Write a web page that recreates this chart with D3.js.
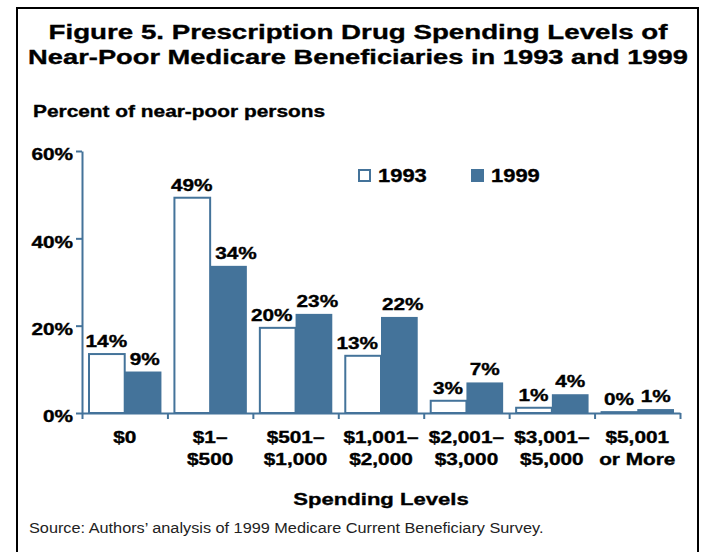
<!DOCTYPE html>
<html><head><meta charset="utf-8">
<script src="https://cdn.jsdelivr.net/npm/d3@7"></script>
<style>body{margin:0;background:#fff}svg{display:block}text{font-family:"Liberation Sans",Arial,sans-serif}</style>
</head><body>
<svg id="c" width="705" height="552"></svg>
<script>
const categories = [["$0"],["$1–","$500"],["$501–","$1,000"],["$1,001–","$2,000"],["$2,001–","$3,000"],["$3,001–","$5,000"],["$5,001","or More"]];
const series = ["1993","1999"];
const values1993 = [13.5, 49.3, 19.5, 13.1, 2.8, 1.2, 0.2];
const values1999 = [9.5, 33.7, 22.7, 22.0, 7.0, 4.3, 0.9];
const labels1993 = ["14%","49%","20%","13%","3%","1%","0%"];
const labels1999 = ["9%","34%","23%","22%","7%","4%","1%"];
const yTicks = [0, 20, 40, 60];

const blue = "#44739a";
const svg = d3.select("#c");
const L = 82, R = 680, T = 151, B = 413;

// stretched text helper (reference type is wide)
function txt(parent, x, y, s, size, sx, anchor, bold, fill) {
  return parent.append("text")
    .attr("transform", `translate(${x},${y}) scale(${sx},1)`)
    .attr("text-anchor", anchor || "start")
    .attr("font-size", size)
    .attr("font-weight", bold === false ? "normal" : "bold")
    .attr("fill", fill || "#000")
    .attr("stroke", bold === false ? "none" : (fill || "#000"))
    .attr("stroke-width", bold === false ? 0 : 0.35)
    .text(s);
}

svg.append("rect").attr("x",17).attr("y",8).attr("width",681).attr("height",560)
  .attr("fill","none").attr("stroke","#000").attr("stroke-width",2);

txt(svg, 358, 38.5, "Figure 5. Prescription Drug Spending Levels of", 21, 1.32, "middle");
txt(svg, 358, 63.5, "Near-Poor Medicare Beneficiaries in 1993 and 1999", 21, 1.30, "middle");
txt(svg, 33, 116.7, "Percent of near-poor persons", 16.3, 1.28, "start");

const x = d3.scaleBand().domain(d3.range(categories.length)).range([L, R]).paddingInner(0).paddingOuter(0);
const inner = d3.scaleBand().domain(series).range([6, x.bandwidth()-6]);
const y = d3.scaleLinear().domain([0, 60]).range([B, T]);

const data = categories.map((c,i)=>({i, vals:[
  {s:"1993", v:values1993[i], lab:labels1993[i]},
  {s:"1999", v:values1999[i], lab:labels1999[i]}]}));

const grp = svg.append("g").selectAll("g.grp").data(data).join("g")
  .attr("transform", d=>`translate(${x(d.i)},0)`);
grp.selectAll("rect").data(d=>d.vals).join("rect")
  .attr("x", d=>inner(d.s) + (d.s==="1993"?1:0))
  .attr("y", d=>y(d.v))
  .attr("width", d=>inner.bandwidth() - (d.s==="1993"?1:0))
  .attr("height", d=>B - y(d.v))
  .attr("fill", d=>d.s==="1993"?"#fff":blue)
  .attr("stroke", d=>d.s==="1993"?blue:"none")
  .attr("stroke-width", 2);

// value labels, nudged sideways where they would touch the taller neighbour bar
const LSX = 1.26, LOFF = 7;
grp.each(function(d){
  const gg = d3.select(this);
  const bw = inner.bandwidth();
  const a = d.vals[0], b = d.vals[1];
  const ta = txt(gg, 0, 0, a.lab, 16.5, LSX, "middle");
  const tb = txt(gg, 0, 0, b.lab, 16.5, LSX, "middle");
  const wa = ta.node().getComputedTextLength()*LSX;
  const wb = tb.node().getComputedTextLength()*LSX;
  let ca = inner(a.s)+bw/2, cb = inner(b.s)+bw/2;
  const edge = inner(b.s);
  if (b.v > a.v && y(b.v) < y(a.v)-LOFF) { ca = Math.min(ca, edge-3-wa/2); }
  if (a.v > b.v && y(a.v) < y(b.v)-LOFF) { cb = Math.max(cb, edge+5+wb/2); }
  if (b.v > a.v) { cb = Math.max(cb, ca+wa/2+4+wb/2); }
  ta.attr("transform", `translate(${ca},${y(a.v)-LOFF}) scale(${LSX},1)`);
  tb.attr("transform", `translate(${cb},${y(b.v)-LOFF}) scale(${LSX},1)`);
});

// y axis
const yAxis = svg.append("g").attr("transform",`translate(${L},0)`)
  .call(d3.axisLeft(y).tickValues(yTicks).tickFormat(d=>d+"%").tickSize(6).tickSizeOuter(0));
yAxis.select(".domain").attr("stroke",blue).attr("stroke-width",2);
yAxis.selectAll(".tick line").attr("stroke",blue).attr("stroke-width",2);
yAxis.selectAll(".tick text")
  .attr("font-size",16).attr("font-weight","bold").attr("fill","#000")
  .attr("stroke","#000").attr("stroke-width",0.35)
  .attr("font-family","Liberation Sans, Arial, sans-serif")
  .attr("x",-9/1.3).attr("dy","0.56em").attr("transform","scale(1.3,1)");

// x axis
const xb = d3.scaleLinear().domain([0, categories.length]).range([L, R]);
const xAxis = svg.append("g").attr("transform",`translate(0,${B})`)
  .call(d3.axisBottom(xb).tickValues(d3.range(categories.length+1)).tickFormat("").tickSize(6).tickSizeOuter(0));
xAxis.select(".domain").attr("stroke",blue).attr("stroke-width",2);
xAxis.selectAll(".tick line").attr("stroke",blue).attr("stroke-width",2);

const xl = svg.append("g");
categories.forEach((c,i)=>{
  c.forEach((line,j)=>{
    txt(xl, x(i)+x.bandwidth()/2, 443.3 + j*22, line, 16, 1.3, "middle");
  });
});
txt(svg, 381, 505, "Spending Levels", 17, 1.3, "middle");

// legend
const lg = svg.append("g");
lg.append("rect").attr("x",359).attr("y",170).attr("width",11).attr("height",11)
  .attr("fill","#fff").attr("stroke",blue).attr("stroke-width",2);
txt(lg, 378, 182.3, series[0], 18, 1.22, "start");
lg.append("rect").attr("x",471).attr("y",169).attr("width",13).attr("height",13).attr("fill",blue);
txt(lg, 491, 182.3, series[1], 18, 1.22, "start");

txt(svg, 29, 533.3, "Source: Authors’ analysis of 1999 Medicare Current Beneficiary Survey.", 15, 1.085, "start", false, "#222");
</script>
</body></html>
